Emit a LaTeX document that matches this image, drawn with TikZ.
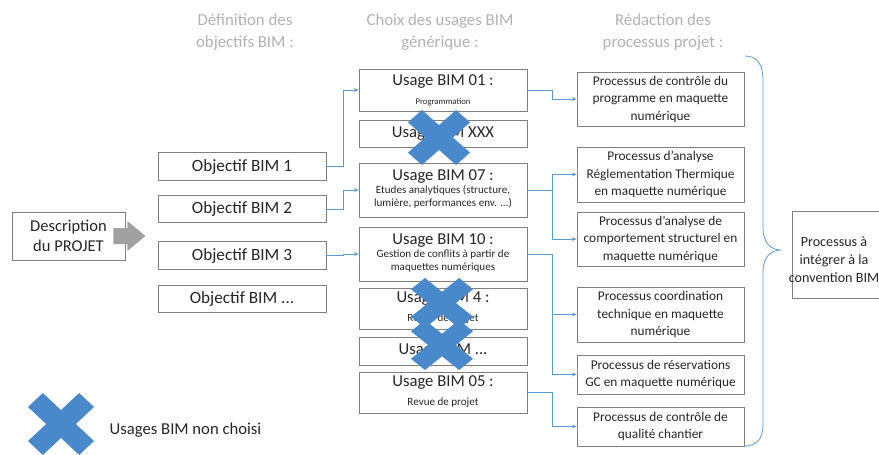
\documentclass[tikz,border=0pt]{standalone}
\usepackage{fontspec}
\setmainfont{Carlito}
\usetikzlibrary{arrows.meta}
\definecolor{boxgray}{RGB}{127,127,127}
\definecolor{headgray}{RGB}{178,178,178}
\definecolor{linkblue}{RGB}{91,155,213}
\definecolor{crossblue}{RGB}{74,136,204}
\definecolor{arrowgray}{RGB}{160,160,160}
\newcommand{\subtxt}[1]{{\fontsize{8.3}{9.75}\selectfont\begin{tabular}{@{}c@{}}#1\end{tabular}}}
\tikzset{
  box/.style={draw=boxgray, line width=0.6pt, text=black!85, align=center, inner sep=0pt},
  objbox/.style={box, minimum width=126pt, minimum height=20.6pt, font=\fontsize{12.9}{15}\selectfont},
  usebox/.style={box, minimum width=126pt, font=\fontsize{12.5}{14}\selectfont},
  probox/.style={box, minimum width=125.25pt, font=\fontsize{10}{13.1}\selectfont},
  head/.style={text=headgray, align=center, font=\fontsize{12.6}{16.5}\selectfont},
  link/.style={draw=linkblue, line width=0.6pt, -{Stealth[length=3.5pt,width=3pt]}},
  nochoice/.pic={\fill[crossblue] (0,0.45) -- (0.55,1) -- (1,0.55) -- (0.45,0) -- (1,-0.55) -- (0.55,-1) -- (0,-0.45) -- (-0.55,-1) -- (-1,-0.55) -- (-0.45,0) -- (-1,0.55) -- (-0.55,1) -- cycle;}
}
\begin{document}
\begin{tikzpicture}[x=0.75pt, y=-0.75pt]
            \useasboundingbox (0,0) rectangle (879,454);
            \node[head] (h1) at (245,32) {Définition des\\objectifs BIM :};
            \node[head] (h2) at (440,32) {Choix des usages BIM\\générique :};
            \node[head] (h3) at (663,32) {Rédaction des\\processus projet :};
            \node[box, minimum width=84.75pt, minimum height=36pt, font=\fontsize{12.4}{15}\selectfont] (desc) at (68.5,236) {Description\\du PROJET};
            \fill[arrowgray, shift={(desc.east)}] (-12,-8) -- (2,-8) -- (2,-15) -- (20,0) -- (2,15) -- (2,8) -- (-12,8) -- cycle;
            \node[objbox] (obj1) at (242,166.5) {Objectif BIM 1};
            \node[objbox] (obj2) at (242,209) {Objectif BIM 2};
            \node[objbox] (obj3) at (242,255.5) {Objectif BIM 3};
            \node[objbox] (obj4) at (242,299) {Objectif BIM ...};
            \node[usebox, minimum height=31.5pt] (u01) at (443,90) {Usage BIM 01 :\\{\fontsize{6.5}{8}\selectfont Programmation}};
            \node[usebox, minimum height=20.25pt] (uxxx) at (443,133.5) {Usage BIM XXX};
            \node[usebox, minimum height=40.5pt] (u07) at (443,190) {Usage BIM 07 :\\\subtxt{Etudes analytiques (structure,\\lumière, performances env. ...)}};
            \node[usebox, minimum height=40.5pt] (u10) at (443,254) {Usage BIM 10 :\\\subtxt{Gestion de conflits à partir de\\maquettes numériques}};
            \node[usebox, minimum height=30.75pt] (u04) at (443,308.5) {Usage BIM 4 :\\\subtxt{Revue de projet}};
            \node[usebox, minimum height=21pt] (uetc) at (443,351) {Usage BIM ...};
            \node[usebox, minimum height=30.75pt] (u05) at (443,392.5) {Usage BIM 05 :\\\subtxt{Revue de projet}};
            \node[probox, minimum height=40.5pt] (p1) at (660.5,99) {Processus de contrôle du\\programme en maquette\\numérique};
            \node[probox, minimum height=41.25pt] (p2) at (660.5,174.5) {Processus d’analyse\\Réglementation Thermique\\en maquette numérique};
            \node[probox, minimum height=40.5pt] (p3) at (660.5,239) {Processus d’analyse de\\comportement structurel en\\maquette numérique};
            \node[probox, minimum height=41.25pt] (p4) at (660.5,314.5) {Processus coordination\\technique en maquette\\numérique};
            \node[probox, minimum height=29.25pt] (p5) at (660.5,374.5) {Processus de réservations\\GC en maquette numérique};
            \node[probox, minimum height=29.25pt] (p6) at (660.5,426.5) {Processus de contrôle de\\qualité chantier};
            \node[box, minimum width=69.75pt, minimum height=65.25pt, anchor=west] (conv) at (792,254.5) {};
            \node[text=black!85, align=center, font=\fontsize{10.6}{13.5}\selectfont] (convtxt) at (834,260) {Processus à\\intégrer à la\\convention BIM};
            \draw[link] (obj1.east) -- ++(17,0) |- (u01.west);
            \draw[link] (obj2.east) -- ++(17,0) |- (u07.west);
            \draw[link] (obj3.east) -- ++(17,0) |- (u10.west);
            \draw[link] (u01.east) -- ++(25,0) |- (p1.west);
            \draw[link] (u07.east) -- ++(25,0) |- (p2.west);
            \draw[link] (u07.east) -- ++(25,0) |- (p3.west);
            \draw[link] (u10.east) -- ++(25,0) |- (p4.west);
            \draw[link] (u10.east) -- ++(25,0) |- (p5.west);
            \draw[link] (u05.east) -- ++(25,0) |- (p6.west);
            \draw[linkblue, line width=0.6pt] (745,56) .. controls (757,56) and (763,64) .. (763,80) -- (763,228) .. controls (763,242) and (770,250) .. (781,250) .. controls (770,250) and (763,258) .. (763,272) -- (763,425) .. controls (763,438) and (757,446) .. (745,446);
            \pic[xscale=31, yscale=27.5] at (439,137.5) {nochoice};
            \pic[xscale=31, yscale=25] at (442,303) {nochoice};
            \pic[xscale=31, yscale=25] at (442,345) {nochoice};
            \pic[xscale=33, yscale=31] at (61,424) {nochoice};
            \node[anchor=west, text=black!85, font=\fontsize{12.5}{15}\selectfont] (legend) at (105,430) {Usages BIM non choisi};
        \end{tikzpicture}
\end{document}
